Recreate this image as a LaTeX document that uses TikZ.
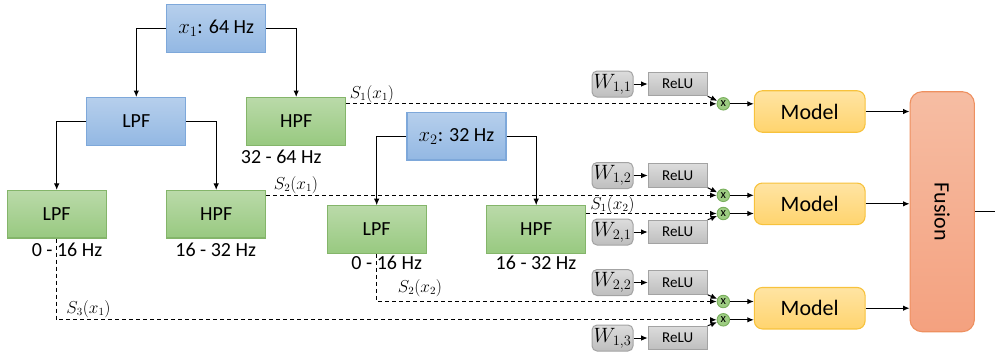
\documentclass[tikz,border=0pt]{standalone}
\usepackage{fontspec}
\setmainfont{Carlito}
\usetikzlibrary{arrows.meta}

\definecolor{bluetop}{HTML}{B6CFEC}
\definecolor{bluebot}{HTML}{93B8E3}
\definecolor{blueline}{HTML}{7EA8DA}
\definecolor{greentop}{HTML}{BADAA9}
\definecolor{greenbot}{HTML}{98C980}
\definecolor{greenline}{HTML}{84B56A}
\definecolor{graytop}{HTML}{DCDCDC}
\definecolor{graybot}{HTML}{BEBEBE}
\definecolor{grayline}{HTML}{A3A3A3}
\definecolor{modeltop}{HTML}{FFE4A3}
\definecolor{modelbot}{HTML}{FFD46E}
\definecolor{modelline}{HTML}{F7C23C}
\definecolor{fusiontop}{HTML}{F6BDA3}
\definecolor{fusionbot}{HTML}{F4A17F}
\definecolor{fusionline}{HTML}{EE9060}
\definecolor{multfill}{HTML}{9DCC82}
\definecolor{multline}{HTML}{79AF5C}

\tikzset{
  filterbox/.style={draw, line width=1.1pt, minimum width=99pt, minimum height=47.5pt,
    inner sep=0pt, font=\fontsize{20}{22}\selectfont},
  bluebox/.style={filterbox, draw=blueline, top color=bluetop, bottom color=bluebot},
  greenbox/.style={filterbox, draw=greenline, top color=greentop, bottom color=greenbot},
  wbox/.style={draw=grayline, line width=1pt, top color=graytop, bottom color=graybot,
    rounded corners=5pt, minimum width=41pt, minimum height=26pt, inner sep=0pt,
    font=\fontsize{21}{24}\selectfont},
  relubox/.style={draw=grayline, line width=1pt, top color=graytop, bottom color=graybot,
    minimum width=59pt, minimum height=23.5pt, inner sep=0pt,
    font=\fontsize{15}{17}\selectfont},
  mult/.style={circle, draw=multline, line width=0.9pt, fill=multfill, minimum size=12.5pt,
    inner sep=0pt, font=\fontsize{12.5}{12}\selectfont},
  modelbox/.style={draw=modelline, line width=1.1pt, top color=modeltop, bottom color=modelbot,
    rounded corners=8pt, minimum width=110.7pt, minimum height=41.5pt, inner sep=0pt,
    font=\fontsize{22}{26}\selectfont},
  fusionbox/.style={draw=fusionline, line width=1.1pt, top color=fusiontop, bottom color=fusionbot,
    rounded corners=12pt, minimum width=64.3pt, minimum height=240pt, inner sep=0pt,
    font=\fontsize{22}{26}\selectfont},
  freq/.style={inner sep=0pt, font=\fontsize{20}{22}\selectfont},
  sig/.style={inner sep=0pt, font=\fontsize{16}{18}\selectfont},
  arr/.style={-{Latex[length=6.5pt,width=5.5pt]}, line width=1pt},
  darr/.style={arr, dash pattern=on 4pt off 3pt},
}

\begin{document}
\begin{tikzpicture}[x=1pt, y=-1pt]
\useasboundingbox (0,0) rectangle (995,354);

% first decomposition tree
\node[bluebox]  (x1)   at (216.2, 28.3)  {$x_1$: 64 Hz};
\node[bluebox]  (lpf1) at (136.3, 121.3) {LPF};
\node[greenbox] (hpf1) at (296.2, 121.3) {HPF};
\node[greenbox] (lpfa) at (56.7, 214.2)  {LPF};
\node[greenbox] (hpfa) at (216.2, 214.2) {HPF};

\node[freq] (f1) at (281.2, 157) {32 - 64 Hz};
\node[freq] (f2) at (67, 250)    {0 - 16 Hz};
\node[freq] (f3) at (215.7, 250) {16 - 32 Hz};

\draw[arr] (x1.west) -| (lpf1.north);
\draw[arr] (x1.east) -| (hpf1.north);
\draw[arr] (lpf1.west) -| (lpfa.north);
\draw[arr] (lpf1.east) -| (hpfa.north);

% second decomposition tree
\node[bluebox]  (x2)   at (456.5, 136.2) {$x_2$: 32 Hz};
\node[greenbox] (lpfb) at (376.7, 229.5) {LPF};
\node[greenbox] (hpfb) at (536.2, 229.5) {HPF};

\node[freq] (f4) at (386.7, 263) {0 - 16 Hz};
\node[freq] (f5) at (536, 263)   {16 - 32 Hz};

\draw[arr] (x2.west) -| (lpfb.north);
\draw[arr] (x2.east) -| (hpfb.north);

% weights, activations and multipliers
\node[wbox]    (w11) at (612.5, 84)    {$W_{1,1}$};
\node[relubox] (r11) at (677.7, 84)    {ReLU};
\node[wbox]    (w12) at (612.5, 175.5) {$W_{1,2}$};
\node[relubox] (r12) at (677.7, 175.5) {ReLU};
\node[wbox]    (w21) at (612.5, 232)   {$W_{2,1}$};
\node[relubox] (r21) at (677.7, 232)   {ReLU};
\node[wbox]    (w22) at (612.5, 282.5) {$W_{2,2}$};
\node[relubox] (r22) at (677.7, 282.5) {ReLU};
\node[wbox]    (w13) at (612.5, 338)   {$W_{1,3}$};
\node[relubox] (r13) at (677.7, 338)   {ReLU};

\node[mult] (m11) at (723.3, 103.8) {x};
\node[mult] (m21) at (723.3, 195.3) {x};
\node[mult] (m22) at (723.3, 213.5) {x};
\node[mult] (m31) at (723.3, 301.5) {x};
\node[mult] (m32) at (723.3, 319.8) {x};

\foreach \w/\r in {w11/r11, w12/r12, w21/r21, w22/r22, w13/r13}
  \draw[arr] (\w.east) -- (\r.west);
\draw[arr] (r11.south east) -- (m11);
\draw[arr] (r12.south east) -- (m21);
\draw[arr] (r21.north east) -- (m22);
\draw[arr] (r22.south east) -- (m31);
\draw[arr] (r13.north east) -- (m32);

% sub-band signals
\draw[darr] (hpf1.east |- m11) -- (m11.west);
\draw[darr] (hpfa.east |- m21) -- (m21.west);
\draw[darr] (hpfb.east |- m22) -- (m22.west);
\draw[darr] (lpfb.south) |- (m31.west);
\draw[darr] (lpfa.south) |- (m32.west);

\node[sig] (s11) at (372, 94)      {$S_1(x_1)$};
\node[sig] (s21) at (296, 185)     {$S_2(x_1)$};
\node[sig] (s12) at (612.5, 205)   {$S_1(x_2)$};
\node[sig] (s22) at (420, 288)     {$S_2(x_2)$};
\node[sig] (s31) at (88.5, 309)    {$S_3(x_1)$};

% models and fusion
\node[modelbox] (mod1) at (809.7, 111.5) {Model};
\node[modelbox] (mod2) at (809.7, 203.8) {Model};
\node[modelbox] (mod3) at (809.7, 308.2) {Model};
\node[fusionbox] (fusion) at (942.2, 211.7) {\rotatebox{-90}{Fusion}};
\coordinate (out) at (995, 211.7);

\draw[arr] (m11.east) -- (mod1.west |- m11);
\draw[arr] (m21.east) -- (mod2.west |- m21);
\draw[arr] (m22.east) -- (mod2.west |- m22);
\draw[arr] (m31.east) -- (mod3.west |- m31);
\draw[arr] (m32.east) -- (mod3.west |- m32);

\draw[arr] (mod1.east) -- (fusion.west |- mod1.east);
\draw[arr] (mod2.east) -- (fusion.west |- mod2.east);
\draw[arr] (mod3.east) -- (fusion.west |- mod3.east);
\draw[line width=1pt] (fusion.east) -- (out);
\end{tikzpicture}
\end{document}
